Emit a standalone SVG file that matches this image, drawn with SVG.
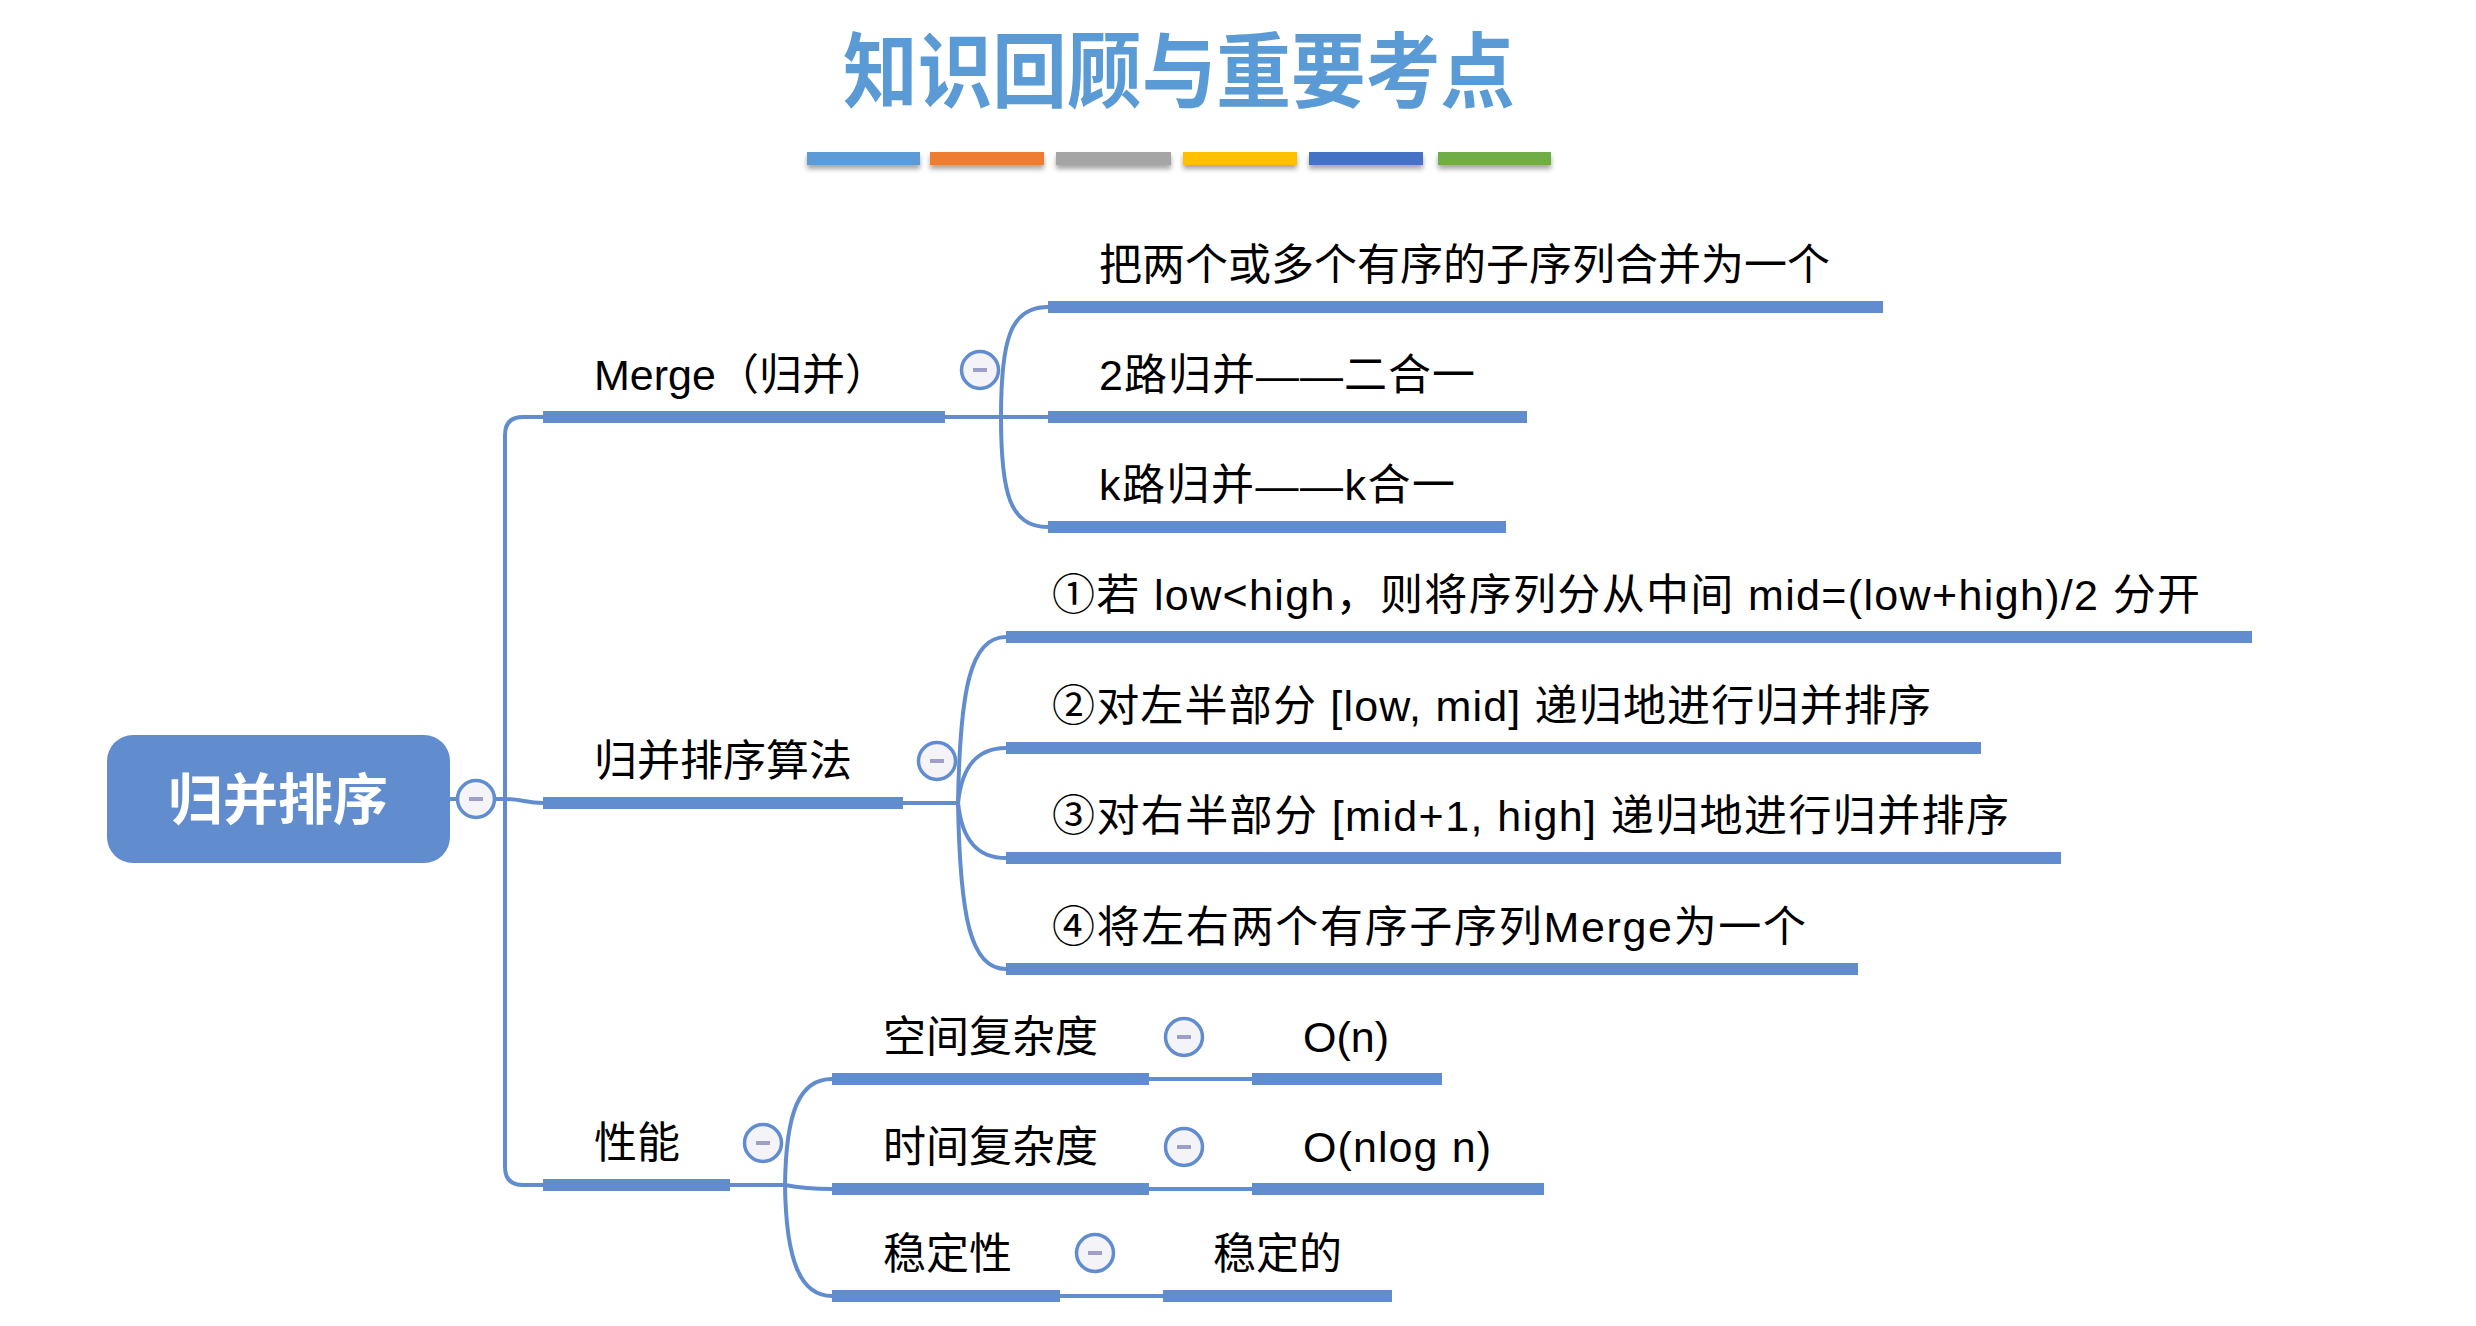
<svg xmlns="http://www.w3.org/2000/svg" width="2476" height="1326" viewBox="0 0 2476 1326">
<defs>
<style>
.t{font-family:"Liberation Sans","Noto Sans CJK SC",sans-serif;font-size:43px;fill:#000}
.ul{stroke:#618DCE;stroke-width:12;stroke-linecap:butt;fill:none}
.ln{stroke:#618DCE;stroke-width:4;fill:none;stroke-linecap:round}
.cc{fill:#F3F3F8;stroke:#618DCE;stroke-width:3.5}
.mn{fill:#9D9FC9}
</style>
<filter id="sh" x="-10%" y="-50%" width="120%" height="250%">
<feDropShadow dx="0" dy="4" stdDeviation="2.5" flood-color="#000" flood-opacity="0.35"/>
</filter>
<symbol id="col" overflow="visible">
<circle class="cc" cx="0" cy="0" r="18.5"/>
<rect class="mn" x="-7" y="-2" width="14" height="4"/>
</symbol>
</defs>
<rect width="2476" height="1326" fill="#fff"/>

<g id="title">
<text x="1179" y="101" text-anchor="middle" textLength="672" lengthAdjust="spacingAndGlyphs" font-family="'Noto Sans CJK SC',sans-serif" font-weight="bold" font-size="82" fill="#5B9BD5">知识回顾与重要考点</text>
<g filter="url(#sh)">
<rect x="807" y="152" width="113" height="13" fill="#5B9BD5"/>
<rect x="930" y="152" width="114" height="13" fill="#ED7D31"/>
<rect x="1056" y="152" width="115" height="13" fill="#A5A5A5"/>
<rect x="1183" y="152" width="114" height="13" fill="#FFC000"/>
<rect x="1309" y="152" width="114" height="13" fill="#4472C4"/>
<rect x="1438" y="152" width="113" height="13" fill="#70AD47"/>
</g>
</g>

<g id="connectors">
<path class="ln" d="M450,799 H505"/>
<path class="ln" d="M543,417 H523 Q505,417 505,435 V1167 Q505,1185 523,1185 H543"/>
<path class="ln" d="M505,799 C522,799 526,803 543,803"/>
<path class="ln" d="M945,417 H1048"/>
<path class="ln" d="M1001,417 C1001,340 1010,307 1048,307"/>
<path class="ln" d="M1001,417 C1001,494 1010,527 1048,527"/>
<path class="ln" d="M903,803 H958"/>
<path class="ln" d="M958,803 C960,690 970,637 1006,637"/>
<path class="ln" d="M958,803 C962,765 978,748 1006,748"/>
<path class="ln" d="M958,803 C962,841 978,858 1006,858"/>
<path class="ln" d="M958,803 C960,916 970,969 1006,969"/>
<path class="ln" d="M730,1185 H785"/>
<path class="ln" d="M785,1185 C786,1110 800,1079 832,1079"/>
<path class="ln" d="M785,1185 C800,1188 815,1189 832,1189"/>
<path class="ln" d="M785,1185 C786,1260 800,1296 832,1296"/>
<path class="ln" d="M1149,1079 H1252"/>
<path class="ln" d="M1149,1189 H1252"/>
<path class="ln" d="M1060,1296 H1163"/>
</g>

<g id="root">
<rect x="107" y="735" width="343" height="128" rx="26" fill="#618DCE"/>
<text x="278" y="819" text-anchor="middle" font-family="'Noto Sans CJK SC',sans-serif" font-weight="bold" font-size="55" fill="#fff">归并排序</text>
<use href="#col" x="476" y="799"/>
</g>

<g id="n-merge">
<line class="ul" x1="543" y1="417" x2="945" y2="417"/>
<text class="t" x="594" y="390">Merge（归并）</text>
<use href="#col" x="980" y="370"/>
</g>
<g id="n-merge-1">
<line class="ul" x1="1048" y1="307" x2="1883" y2="307"/>
<text class="t" x="1099" y="280">把两个或多个有序的子序列合并为一个</text>
</g>
<g id="n-merge-2">
<line class="ul" x1="1048" y1="417" x2="1527" y2="417"/>
<text class="t" x="1099" y="390" textLength="376" lengthAdjust="spacing">2路归并——二合一</text>
</g>
<g id="n-merge-3">
<line class="ul" x1="1048" y1="527" x2="1506" y2="527"/>
<text class="t" x="1099" y="500" textLength="356" lengthAdjust="spacing">k路归并——k合一</text>
</g>

<g id="n-algo">
<line class="ul" x1="543" y1="803" x2="903" y2="803"/>
<text class="t" x="594" y="776">归并排序算法</text>
<use href="#col" x="937" y="761"/>
</g>
<g id="n-algo-1">
<line class="ul" x1="1006" y1="637" x2="2252" y2="637"/>
<text class="t" x="1052" y="610" textLength="1148" lengthAdjust="spacing">①若 low&lt;high，则将序列分从中间 mid=(low+high)/2 分开</text>
</g>
<g id="n-algo-2">
<line class="ul" x1="1006" y1="748" x2="1981" y2="748"/>
<text class="t" x="1052" y="721" textLength="879" lengthAdjust="spacing">②对左半部分 [low, mid] 递归地进行归并排序</text>
</g>
<g id="n-algo-3">
<line class="ul" x1="1006" y1="858" x2="2061" y2="858"/>
<text class="t" x="1052" y="831" textLength="957" lengthAdjust="spacing">③对右半部分 [mid+1, high] 递归地进行归并排序</text>
</g>
<g id="n-algo-4">
<line class="ul" x1="1006" y1="969" x2="1858" y2="969"/>
<text class="t" x="1052" y="942" textLength="754" lengthAdjust="spacing">④将左右两个有序子序列Merge为一个</text>
</g>

<g id="n-perf">
<line class="ul" x1="543" y1="1185" x2="730" y2="1185"/>
<text class="t" x="594" y="1158">性能</text>
<use href="#col" x="763" y="1143"/>
</g>
<g id="n-space">
<line class="ul" x1="832" y1="1079" x2="1149" y2="1079"/>
<text class="t" x="883" y="1052">空间复杂度</text>
<use href="#col" x="1184" y="1037"/>
</g>
<g id="n-space-v">
<line class="ul" x1="1252" y1="1079" x2="1442" y2="1079"/>
<text class="t" x="1303" y="1052">O(n)</text>
</g>
<g id="n-time">
<line class="ul" x1="832" y1="1189" x2="1149" y2="1189"/>
<text class="t" x="883" y="1162">时间复杂度</text>
<use href="#col" x="1184" y="1147"/>
</g>
<g id="n-time-v">
<line class="ul" x1="1252" y1="1189" x2="1544" y2="1189"/>
<text class="t" x="1303" y="1162" textLength="188" lengthAdjust="spacing">O(nlog n)</text>
</g>
<g id="n-stable">
<line class="ul" x1="832" y1="1296" x2="1060" y2="1296"/>
<text class="t" x="883" y="1269">稳定性</text>
<use href="#col" x="1095" y="1253"/>
</g>
<g id="n-stable-v">
<line class="ul" x1="1163" y1="1296" x2="1392" y2="1296"/>
<text class="t" x="1213" y="1269">稳定的</text>
</g>
</svg>
